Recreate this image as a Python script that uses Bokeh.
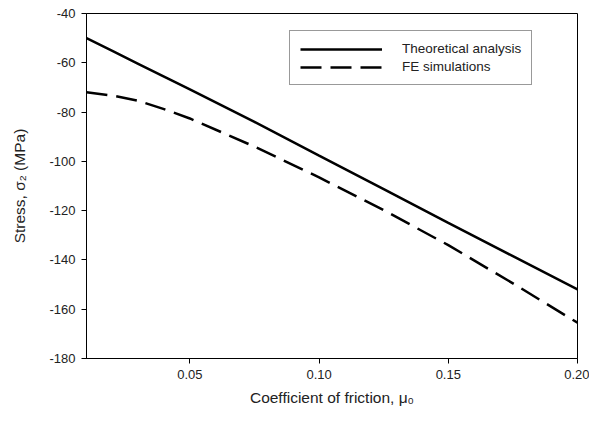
from bokeh.plotting import figure
from bokeh.models import Legend, LegendItem, FixedTicker, Range1d, NumeralTickFormatter
from bokeh.embed import file_html
from bokeh.resources import INLINE

# Data
mu = [0.01, 0.02, 0.03, 0.04, 0.05, 0.075, 0.10, 0.125, 0.15, 0.175, 0.20]
theoretical = [-50, -55.2, -60.4, -65.6, -70.8, -84, -97.7, -111.3, -125, -138.5, -152]
fe_sim = [-72, -73.3, -75.4, -78.8, -82.6, -94, -106.5, -119.8, -134, -149.5, -165.5]

x_ticks = [0.05, 0.10, 0.15, 0.20]
y_ticks = [-180, -160, -140, -120, -100, -80, -60, -40]

FONT = "Liberation Sans"

p = figure(width=589, height=413, output_backend="svg", toolbar_location=None,
           x_range=Range1d(0.01, 0.20), y_range=Range1d(-180, -40),
           min_border_left=86, min_border_right=12, min_border_top=13, min_border_bottom=55)

r1 = p.line(mu, theoretical, line_color="black", line_width=2.5)
r2 = p.line(mu, fe_sim, line_color="black", line_width=2.5, line_dash="21 9")

p.xgrid.visible = False
p.ygrid.visible = False
p.outline_line_color = "black"
p.outline_line_width = 1
p.background_fill_color = "white"
p.border_fill_color = "white"

p.xaxis.ticker = FixedTicker(ticks=x_ticks)
p.yaxis.ticker = FixedTicker(ticks=y_ticks)
p.xaxis.formatter = NumeralTickFormatter(format="0.00")
p.yaxis.formatter = NumeralTickFormatter(format="0")
for ax in (p.xaxis, p.yaxis):
    ax.major_tick_in = 0
    ax.major_tick_out = 5
    ax.minor_tick_in = 0
    ax.minor_tick_out = 0
    ax.axis_line_color = "black"
    ax.major_tick_line_color = "black"
    ax.major_label_text_font = FONT
    ax.major_label_text_font_size = "13px"
    ax.major_label_text_color = "#222222"
    ax.axis_label_text_font = FONT
    ax.axis_label_text_font_size = "15.5px"
    ax.axis_label_text_font_style = "normal"
    ax.axis_label_text_color = "#222222"

p.xaxis.axis_label = "Coefficient of friction, μ₀"
p.yaxis.axis_label = "Stress, σ₂ (MPa)"
p.xaxis.major_label_standoff = 6
p.yaxis.major_label_standoff = 6
p.xaxis.axis_label_standoff = 7
p.yaxis.axis_label_standoff = 18

legend = Legend(items=[LegendItem(label="Theoretical analysis", renderers=[r1]),
                       LegendItem(label="FE simulations", renderers=[r2])],
                location=(203, 273))
legend.glyph_width = 82
legend.glyph_height = 14
legend.spacing = 3
legend.padding = 10
legend.label_standoff = 20
legend.label_text_font = FONT
legend.label_text_font_size = "13.5px"
legend.label_text_color = "#222222"
legend.label_height = 14
legend.border_line_color = "#333333"
legend.border_line_width = 1.5
legend.background_fill_alpha = 1
legend.margin = 0
p.add_layout(legend)

open("out.html", "w").write(file_html(p, INLINE))
